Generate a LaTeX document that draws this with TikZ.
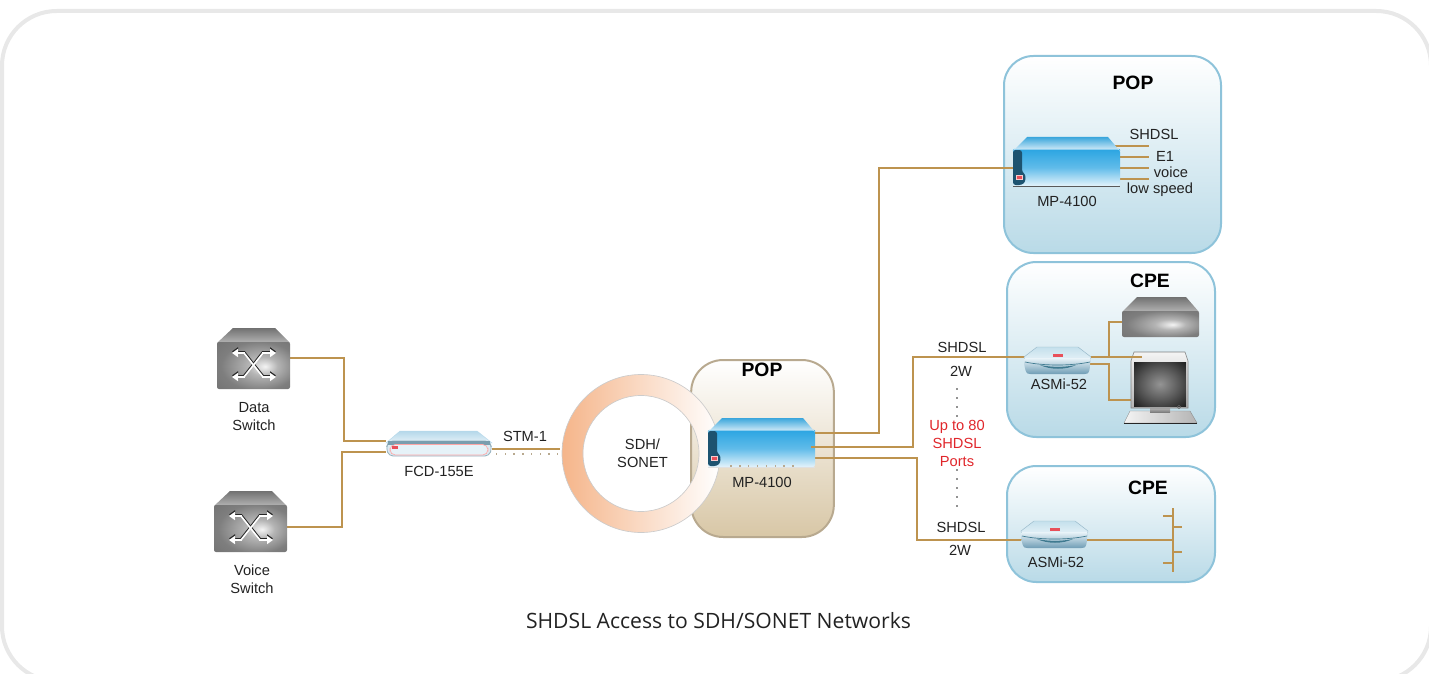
\documentclass[tikz,border=0pt]{standalone}
\usepackage{fontspec}
\setmainfont{Liberation Sans}
\newfontfamily\titlefont{Open Sans}
\usetikzlibrary{arrows.meta,calc}
\definecolor{cablec}{HTML}{BD934F}
\definecolor{framec}{HTML}{E8E8E8}
\definecolor{blueedge}{HTML}{8EC3DA}
\definecolor{bluefill}{HTML}{B9DAE7}
\definecolor{tanedge}{HTML}{B8A98F}
\definecolor{tanfill}{HTML}{D8C7A6}
\definecolor{ringc}{HTML}{F5B58A}
\definecolor{txt}{HTML}{222222}
\definecolor{redtxt}{HTML}{E0262B}
\definecolor{logoc}{HTML}{E8505A}
\definecolor{gA}{HTML}{F4F4F4}
\definecolor{gB}{HTML}{B4B4B4}
\definecolor{gC}{HTML}{7E7E7E}
\definecolor{gD}{HTML}{686868}
\definecolor{sA}{HTML}{949494}
\definecolor{sB}{HTML}{5A5A5A}
\definecolor{sC}{HTML}{1C1C1C}
\definecolor{mpA}{HTML}{2BA5E2}
\definecolor{mpB}{HTML}{E4F3FB}
\definecolor{mpC}{HTML}{3AA6DC}
\definecolor{mpD}{HTML}{D3EBF7}
\definecolor{mpP}{HTML}{1D5370}
\definecolor{fcA}{HTML}{B5D8EA}
\definecolor{fcB}{HTML}{E6F2F8}
\definecolor{fcC}{HTML}{7A9DAE}
\definecolor{fcD}{HTML}{DCEAF2}
\definecolor{asA}{HTML}{C4E0EC}
\definecolor{asB}{HTML}{EAF4F9}
\definecolor{asC}{HTML}{6F9DB5}
\definecolor{asD}{HTML}{3F7A90}
\pgfdeclareradialshading{swshade}{\pgfpoint{8bp}{-1bp}}{color(0bp)=(gA);color(10bp)=(gB);color(26bp)=(gC);color(50bp)=(gD)}
\pgfdeclareradialshading{scrshade}{\pgfpoint{0bp}{0bp}}{color(0bp)=(sA);color(18bp)=(sB);color(36bp)=(sC);color(50bp)=(sC)}
\tikzset{
  cable/.style={draw=cablec,line width=2.2pt,line join=miter},
  lbl/.style={text=txt,inner sep=0pt,align=center,font=\fontsize{11}{13.5}\selectfont},
  redlbl/.style={text=redtxt,inner sep=0pt,align=center,font=\fontsize{11}{13.5}\selectfont},
  head/.style={text=black,inner sep=0pt,font=\bfseries\fontsize{14.5}{16}\selectfont},
  bluebox/.style={draw=blueedge,line width=1.5pt,rounded corners=22pt,top color=white,bottom color=bluefill},
  tanbox/.style={draw=tanedge,line width=1.5pt,rounded corners=24pt,top color=white,bottom color=tanfill},
  port/.style={inner sep=0pt,outer sep=0pt,minimum width=0pt,minimum height=0pt},
  xarrow/.style={line width=1.2pt,-{Triangle[length=4.5pt,width=6pt]}},
}
% grey switch: origin = top-left of front face
\newcommand\switchdev[2]{\begin{scope}[shift={(#1,#2)}]
  \path[top color=gC!90!black,bottom color=gB] (0,1) -- (16,-14) -- (58,-14) -- (73,1) -- cycle;
  \path[shading=swshade,rounded corners=1.5pt] (0,0) -- (73,0) -- (73,47) -- (0,47) -- cycle;
  \foreach \col/\dy in {black!85/-1.6,white/0}{
    \draw[xarrow,draw=\col,fill=\col] (28,11+\dy) -- (15,11+\dy);
    \draw[xarrow,draw=\col,fill=\col] (28,35+\dy) -- (15,35+\dy);
    \draw[xarrow,draw=\col,fill=\col] (45,35+\dy) -- (59,35+\dy);
    \draw[xarrow,draw=\col,fill=\col] (45,11+\dy) -- (59,11+\dy);
    \draw[line width=1.2pt,draw=\col] (27,11+\dy) -- (46,35+\dy);
    \draw[line width=1.2pt,draw=\col] (27,35+\dy) -- (46,11+\dy);
  }
\end{scope}}
% MP-4100 body: origin = front top-left
\newcommand\mpdev[2]{\begin{scope}[shift={(#1,#2)}]
  \path[top color=mpC,bottom color=mpD] (1,1) -- (14,-12) -- (95,-12) -- (106,1) -- cycle;
  \path[top color=mpA,bottom color=mpB,middle color=mpA!75!white,rounded corners=1.5pt] (0,1) -- (1,0) -- (106,0) -- (107,1) -- (107,37) -- (0,37) -- cycle;
  \path[fill=white,opacity=.45] (1,0) rectangle (106,1.2);
  \path[fill=mpP,rounded corners=2pt] (0,1) -- (9,1) -- (9,23) .. controls (13,26) and (13,32) .. (9,36) -- (0,36) -- cycle;
  \path[fill=logoc,draw=white!70!logoc,line width=.3pt] (3,26) rectangle (9,30);
\end{scope}}
% ASMi-52: origin = top-left of top face, width 67
\newcommand\asmidev[2]{\begin{scope}[shift={(#1,#2)}]
  \path[top color=asA,bottom color=asB,draw=asC!70!white,line width=.35pt,line join=round] (0,10) -- (13,0) -- (54,0) -- (67,10) -- (66,15) -- (1,15) -- cycle;
  \path[top color=asB,bottom color=asC,rounded corners=1pt] (0,11) -- (67,11) -- (66,16) .. controls (66,22) and (65,26) .. (62,27) -- (5,27) .. controls (2,26) and (1,22) .. (0,16) -- cycle;
  \draw[asD,line width=.5pt] (1,15) .. controls (20,19) and (47,19) .. (66,15);
  \path[fill=asD] (16,18) .. controls (28,20.5) and (40,20.5) .. (52,18) .. controls (42,23) and (26,23) .. (16,18) -- cycle;
  \path[fill=logoc] (29,7) rectangle (39,10);
\end{scope}}
\begin{document}
\begin{tikzpicture}[x=0.75pt,y=-0.75pt]
\useasboundingbox (0,0) rectangle (1429,674);
% frame
\begin{scope}
  \clip (0,0) rectangle (1429,674);
  \draw[framec,line width=3pt,rounded corners=41pt] (2,11) rectangle (1431,681);
\end{scope}
% group boxes
\node[tanbox,minimum width=107pt,minimum height=132.75pt,inner sep=0pt] (popc) at (762.5,448.5) {};
\node[bluebox,minimum width=162.75pt,minimum height=147.75pt,inner sep=0pt] (popt) at (1112.5,154.5) {};
\node[bluebox,minimum width=156pt,minimum height=131.25pt,inner sep=0pt] (cpea) at (1111,349.5) {};
\node[bluebox,minimum width=156pt,minimum height=87pt,inner sep=0pt] (cpeb) at (1111,524) {};
% ring
\path[even odd rule,left color=ringc,right color=white] (641,453.5) circle[radius=59.25pt] (641,453.5) circle[radius=43.5pt];
\draw[black!20,line width=.5pt] (641,453.5) circle[radius=59.25pt] (641,453.5) circle[radius=43.5pt];
% device anchors
\node[port,minimum width=54.75pt,minimum height=35pt] (dsw) at (253.5,358) {};
\node[port,minimum width=54.75pt,minimum height=35pt] (vsw) at (250.5,527) {};
\node[port,minimum width=79.5pt,minimum height=18.75pt] (fcd) at (439,443.5) {};
\node[port,minimum width=79.5pt,minimum height=38pt] (mpc) at (762,442.5) {};
\node[port,minimum width=79.5pt,minimum height=38pt] (mpt) at (1066,168) {};
\node[port,minimum width=50pt,minimum height=20pt] (asa) at (1057.5,357) {};
\node[port,minimum width=50pt,minimum height=20pt] (asb) at (1054,540) {};
\node[port,minimum width=57.75pt,minimum height=30pt] (srv) at (1160.5,322) {};
\node[port,minimum width=42.75pt,minimum height=42pt] (mon) at (1159.5,400) {};
\coordinate (ringw) at (560,449);
\coordinate (mpcp) at (811,447);
\node[port] (sone) at (1149,146) {};
\node[port] (stwo) at (1149,157) {};
\node[port] (sthree) at (1149,168) {};
\node[port] (sfour) at (1149,179) {};
\node[port,minimum height=48pt] (bus) at (1173,540) {};
% cables
\draw[cable] (dsw.east) -| (344,441) -- (fcd.west |- 0,441);
\draw[cable] (vsw.east) -| (342,452) -- (fcd.west |- 0,452);
\draw[cable] (fcd.east |- ringw) -- (ringw);
\draw[cable] (mpc.east |- 0,433) -| (879,168) -- (mpt.west);
\draw[cable] (mpc.east |- 0,458) -| (917,540) -- (asb.center);
\foreach \n/\yy in {sone/146,stwo/157,sthree/168,sfour/179} \draw[cable] (1110,\yy) -- (\n);
\draw[cable] (1109,357) |- (srv.west);
\draw[cable] (1085,364) -| (1109,400) -- (mon.west);
\draw[cable] (asb.center) -- (bus.center);
\draw[cable] (bus.north) -- (bus.south);
\draw[cable] (1163,516) -- (1173,516);
\draw[cable] (1173,527) -- (1182,527);
\draw[cable] (1173,552) -- (1182,552);
\draw[cable] (1163,563) -- (1173,563);
% STM dots
\foreach \k in {0,...,7} \path[fill=tanedge] (496+\k*8.7,453.4) rectangle (497.4+\k*8.7,454.8);
% switches
\switchdev{217}{342}
\switchdev{214}{505}
% FCD
\begin{scope}[shift={(386,431)}]
  \path[top color=fcA,bottom color=fcB,draw=fcA,line width=.3pt] (0,12) -- (14,0) -- (91,0) -- (106,12) -- cycle;
  \path[fill=fcD,draw=fcC!80!white,line width=.6pt,rounded corners=3pt] (0,17) -- (3,25) -- (103,25) -- (106,17) -- (103,10) -- (3,10) -- cycle;
  \path[fill=fcC] (2,10) rectangle (104,13.5);
  \path[draw=red!35!white,line width=.5pt,rounded corners=4pt,fill=fcB] (4,13.5) rectangle (102,24);
  \path[fill=logoc] (6,15) rectangle (12,18);
\end{scope}
% MP devices
\mpdev{708}{430}
\foreach \k in {0,...,7} \path[fill=tanedge] (730+\k*8.9,465.2) rectangle (731.6+\k*8.9,466.8);
\path[fill=black!12] (708,467) rectangle (815,467.8);
\mpdev{1013}{149}
\path[fill=black!65] (1013,186) rectangle (1120,187.4);
\draw[cable] (mpcp) -| (913,357) -- (asa.center);
% ASMi
\asmidev{1024}{347}
\asmidev{1021}{521}
% server
\begin{scope}[shift={(1122,311)}]
  \path[top color=gC!90!black,bottom color=gB] (0,1) -- (15,-14) -- (64,-14) -- (77,1) -- cycle;
  \path[shading=swshade,rounded corners=1.5pt] (0,0) rectangle (77,26);
\end{scope}
% computer
\begin{scope}[shift={(1131,352)}]
  \path[left color=gA,right color=gB,draw=black!45,line width=.3pt] (-7,71) -- (-1,59) -- (59,59) -- (66,71) -- cycle;
  \path[fill=black!85] (-7,70.5) rectangle (66,71.8);
  \path[top color=gB,bottom color=gC] (19,56) rectangle (39,60);
  \path[top color=gA,bottom color=gB,draw=black!50,line width=.4pt] (0,56) -- (0,9) -- (3,0) -- (54,0) -- (57,9) -- (57,56) -- cycle;
  \path[shading=scrshade] (3,10) rectangle (55,54);
  \draw[black!60,line width=.4pt] (48,55) circle[radius=1.3pt];
\end{scope}
\draw[cable] (asa.east) -- (1142,357);
% labels
\node[lbl] (tdata) at (254,417) {Data\\Switch};
\node[lbl] (tvoice) at (252,579) {Voice\\Switch};
\node[lbl] (tfcd) at (439,471) {FCD-155E};
\node[lbl] (tstm) at (525,436) {STM-1};
\node[lbl] (tsdh) at (642.5,453) {SDH/\\SONET};
\node[lbl] (tmpc) at (762,482) {MP-4100};
\node[head] (tpopc) at (762,370) {POP};
\node[head] (tpopt) at (1133,83) {POP};
\node[head] (tcpea) at (1150,281) {CPE};
\node[head] (tcpeb) at (1148,488) {CPE};
\node[lbl] (ts1) at (1154,134) {SHDSL};
\node[lbl] (ts2) at (1165,156) {E1};
\node[lbl] (ts3) at (1171,172) {voice};
\node[lbl] (ts4) at (1160,190) {low speed};
\node[lbl] (tmpt) at (1067,201) {MP-4100};
\node[lbl] (tasa) at (1059,384) {ASMi-52};
\node[lbl] (tasb) at (1056,562) {ASMi-52};
\node[lbl] (tsa) at (962,347) {SHDSL};
\node[lbl] (twa) at (961,371) {2W};
\node[lbl] (tsb) at (961,527) {SHDSL};
\node[lbl] (twb) at (960,550) {2W};
\node[redlbl] (tup) at (957,443) {Up to 80\\SHDSL\\Ports};
\foreach \yy in {389,398,407,416,470,479,488,497,506}
  \path[fill=txt] (957,\yy) circle[radius=.65pt];
\node[text=txt,inner sep=0pt,font=\titlefont\fontsize{15.85}{18}\selectfont] (ttitle) at (718.5,621) {SHDSL Access to SDH/SONET Networks};
\end{tikzpicture}
\end{document}
